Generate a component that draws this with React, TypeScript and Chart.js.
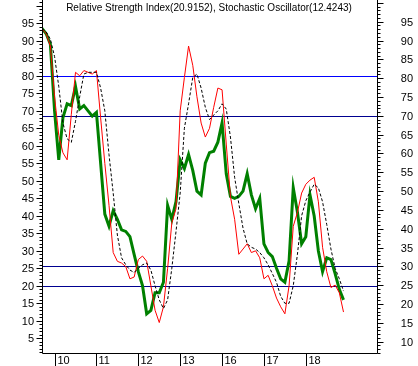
import React, { useEffect, useRef } from "react";
import { Chart, registerables } from "chart.js";

Chart.register(...registerables);

const titleText = "Relative Strength Index(20.9152), Stochastic Oscillator(12.4243)";

// x-axis period labels and the data index where each period starts
const periodLabels = ["10", "11", "12", "13", "16", "17", "18"];
const periodIndex = [3, 13, 23, 33, 43, 53, 63];

// RSI (green, right axis)
const rsiValues = [
  93.2, 91.8, 89.0, 71.3, 58.3, 69.5, 73.2, 72.7, 77.8, 71.8,
  72.7, 71.3, 69.9, 70.9, 57.4, 43.9, 40.7, 44.8, 42.5, 39.7,
  39.3, 37.9, 33.2, 28.6, 24.9, 17.4, 18.3, 23.0, 23.0, 25.8,
  46.2, 42.5, 47.2, 58.3, 56.0, 59.7, 55.5, 50.0, 49.0, 57.4,
  60.2, 60.6, 63.0, 68.1, 54.6, 48.6, 48.1, 48.6, 50.0, 54.6,
  49.0, 45.3, 48.1, 36.0, 33.7, 32.6, 29.5, 26.7, 25.8, 31.4,
  50.9, 44.4, 36.0, 37.9, 49.0, 43.4, 34.1, 28.6, 32.3, 31.8,
  28.1, 23.9, 21.1,
];

// Stochastic %K (red, left axis)
const stochK = [
  93.5, 92.0, 88.5, 74.0, 63.0, 58.0, 56.0, 69.0, 81.0, 80.0,
  81.5, 81.0, 80.5, 81.5, 68.0, 55.0, 43.0, 29.5, 27.0, 26.5,
  25.5, 22.0, 22.5, 27.5, 28.5, 27.0, 20.0, 13.0, 9.5, 14.0,
  25.0, 38.0, 42.0, 70.0, 79.5, 88.5, 83.0, 74.0, 66.5, 62.5,
  65.0, 71.0, 76.5, 76.0, 60.5, 45.5, 39.0, 29.0, 30.5, 32.0,
  29.5, 30.0, 28.0, 22.0, 23.0, 20.0, 16.5, 14.0, 12.0, 20.0,
  37.0, 41.0, 46.5, 49.0, 50.2, 51.0, 44.0, 31.0, 24.0, 19.5,
  20.2, 18.0, 12.5,
];

// Stochastic %D (black dashed, left axis)
const stochD = [
  93.5, 92.5, 90.5, 85.5, 77.0, 66.5, 62.0, 61.0, 67.0, 74.0,
  80.5, 81.0, 81.0, 81.0, 76.5, 70.0, 57.5, 46.5, 34.5, 28.0,
  26.0, 24.5, 23.8, 25.0, 26.0, 26.5, 24.5, 20.0, 16.0, 13.5,
  16.0, 25.0, 35.5, 46.5, 65.0, 72.0, 79.5, 80.5, 76.5, 71.0,
  67.5, 68.8, 70.0, 72.0, 70.5, 62.5, 51.0, 43.5, 36.5, 32.0,
  31.0, 30.5, 29.5, 28.0, 26.0, 23.5, 21.0, 17.0, 15.0, 15.0,
  20.0, 29.0, 40.0, 44.3, 46.8, 49.0, 48.0, 44.0, 37.5, 30.5,
  25.0, 22.0, 18.5,
];

// reference levels
const stochLevels = [80, 20];
const rsiLevels = [70, 30];

const FONT = "'Liberation Sans', Arial, sans-serif";

const decorPlugin = {
  id: "decor",
  beforeDatasetsDraw(chart: any) {
    const ctx = chart.ctx;
    const { left, right } = chart.chartArea;
    const yL = chart.scales.y;
    const yR = chart.scales.y2;
    ctx.save();
    ctx.lineWidth = 1;
    const drawH = (py: number, color: string) => {
      const y = Math.round(py) + 0.5;
      ctx.strokeStyle = color;
      ctx.beginPath();
      ctx.moveTo(left, y);
      ctx.lineTo(right, y);
      ctx.stroke();
    };
    drawH(yL.getPixelForValue(stochLevels[0]), "#0000ff");
    drawH(yL.getPixelForValue(stochLevels[1]), "#000090");
    rsiLevels.forEach((v) => drawH(yR.getPixelForValue(v), "#000090"));
    ctx.restore();
  },
  afterDraw(chart: any) {
    const ctx = chart.ctx;
    const { left, right, bottom } = chart.chartArea;
    const yL = chart.scales.y;
    const yR = chart.scales.y2;
    const xs = chart.scales.x;
    const H = chart.height;
    const W = chart.width;
    ctx.save();
    ctx.strokeStyle = "#000";
    ctx.fillStyle = "#000";
    ctx.lineWidth = 1;
    const lx = Math.round(left) + 0.5;
    const rx = Math.round(right) + 0.5;
    const by = Math.round(bottom) + 0.5;
    ctx.beginPath();
    ctx.moveTo(lx, 0);
    ctx.lineTo(lx, by);
    ctx.lineTo(rx, by);
    ctx.lineTo(rx, 0);
    ctx.stroke();

    ctx.font = "11px " + FONT;
    ctx.textBaseline = "middle";
    // left axis ticks
    ctx.textAlign = "right";
    for (let v = Math.ceil(yL.min); v <= yL.max; v++) {
      const py = Math.round(yL.getPixelForValue(v)) + 0.5;
      const major = v % 5 === 0;
      ctx.beginPath();
      ctx.moveTo(lx, py);
      ctx.lineTo(lx - (major ? 6 : 3), py);
      ctx.stroke();
      if (major && v >= 5 && v <= 95) ctx.fillText(String(v), 34, py);
    }
    // right axis ticks
    for (let v = Math.ceil(yR.min); v <= yR.max; v++) {
      const py = Math.round(yR.getPixelForValue(v)) + 0.5;
      const major = v % 5 === 0;
      ctx.beginPath();
      ctx.moveTo(rx, py);
      ctx.lineTo(rx + (major ? 6 : 3), py);
      ctx.stroke();
      if (major && v >= 10 && v <= 95) ctx.fillText(String(v), 413, py);
    }
    // x axis period ticks
    ctx.textAlign = "left";
    periodIndex.forEach((idx, k) => {
      const px = Math.round(xs.getPixelForValue(idx)) + 0.5;
      ctx.beginPath();
      ctx.moveTo(px, by);
      ctx.lineTo(px, H);
      ctx.stroke();
      ctx.fillText(periodLabels[k], px + 2, 361);
    });
    // title
    ctx.font = "10px " + FONT;
    ctx.textAlign = "center";
    ctx.fillText(titleText, W / 2, 8);
    ctx.restore();
  },
};

export default function App() {
  const ref = useRef<HTMLCanvasElement | null>(null);
  useEffect(() => {
    document.body.style.margin = "0";
    const canvas = ref.current!;
    const idx = rsiValues.map((_, i) => i);
    const chart = new Chart(canvas, {
      type: "line",
      data: {
        labels: idx,
        datasets: [
          {
            label: "Stochastic %D",
            data: stochD.map((v, i) => ({ x: i, y: v })),
            borderColor: "#000000",
            borderWidth: 1,
            borderDash: [3, 2],
            pointRadius: 0,
            yAxisID: "y",
            order: 1,
          },
          {
            label: "Stochastic %K",
            data: stochK.map((v, i) => ({ x: i, y: v })),
            borderColor: "#ff0000",
            borderWidth: 1,
            pointRadius: 0,
            yAxisID: "y",
            order: 2,
          },
          {
            label: "RSI",
            data: rsiValues.map((v, i) => ({ x: i, y: v })),
            borderColor: "#008000",
            borderWidth: 3,
            pointRadius: 0,
            yAxisID: "y2",
            order: 3,
          },
        ],
      },
      options: {
        animation: false,
        responsive: false,
        devicePixelRatio: 1,
        layout: { padding: { left: 42, right: 41, top: 0, bottom: 13 } },
        plugins: { legend: { display: false }, tooltip: { enabled: false }, title: { display: false } },
        elements: { line: { tension: 0 } },
        scales: {
          x: { type: "linear", min: 0, max: 80, display: false },
          y: { type: "linear", min: 0.8, max: 101.66, display: false },
          y2: { type: "linear", min: 7.0, max: 100.76, display: false, position: "right" },
        },
      },
      plugins: [decorPlugin],
    });
    return () => chart.destroy();
  }, []);
  return (
    <div style={{ position: "absolute", left: 0, top: 0, width: 418, height: 366, background: "#fff" }}>
      <canvas ref={ref} width={418} height={366} />
    </div>
  );
}
